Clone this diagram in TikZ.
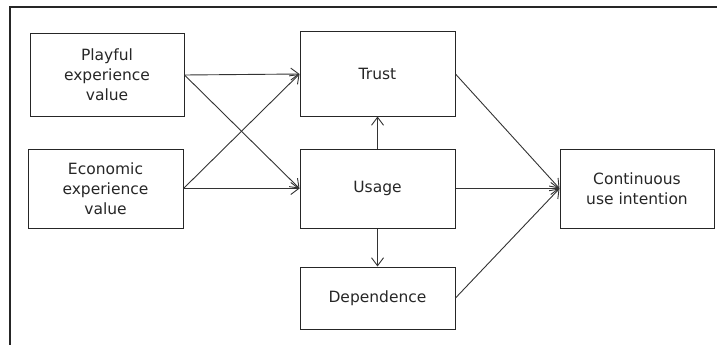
\documentclass[tikz,border=0pt]{standalone}
\usepackage{fontspec}
\setmainfont{DejaVu Sans}
\usetikzlibrary{arrows.meta}
\begin{document}
\begin{tikzpicture}[x=1pt,y=-1pt,
  box/.style={draw=black!85,line width=1pt,rectangle,inner sep=0pt,align=center,
    font=\fontsize{15.5}{20}\selectfont,text=black!85},
  conn/.style={draw=black!80,line width=0.9pt,-{Straight Barb[length=8pt,width=12pt,line width=0.9pt]}}]
\useasboundingbox (0,0) rectangle (717,345);
\draw[line width=1.3pt,black!85] (10,345) -- (10,7) -- (717,7);
\node[box,minimum width=154pt,minimum height=82pt] (play) at (107,75) {Playful\\experience\\value};
\node[box,minimum width=155pt,minimum height=79pt] (econ) at (105.5,188.5) {Economic\\experience\\value};
\node[box,minimum width=155pt,minimum height=84pt] (trust) at (377.5,74) {Trust};
\node[box,minimum width=155pt,minimum height=79pt] (usage) at (377.5,188.5) {Usage};
\node[box,minimum width=155pt,minimum height=62pt] (dep) at (377.5,298) {Dependence};
\node[box,minimum width=154pt,minimum height=79pt] (cont) at (637,188.5) {Continuous\\use intention};
\draw[conn] (play.east) -- (trust.west);
\draw[conn] (play.east) -- (usage.west);
\draw[conn] (econ.east) -- (trust.west);
\draw[conn] (econ.east) -- (usage.west);
\draw[conn] (usage.north) -- (trust.south);
\draw[conn] (usage.south) -- (dep.north);
\draw[conn] (trust.east) -- (cont.west);
\draw[conn] (usage.east) -- (cont.west);
\draw[conn] (dep.east) -- (cont.west);
\end{tikzpicture}
\end{document}
